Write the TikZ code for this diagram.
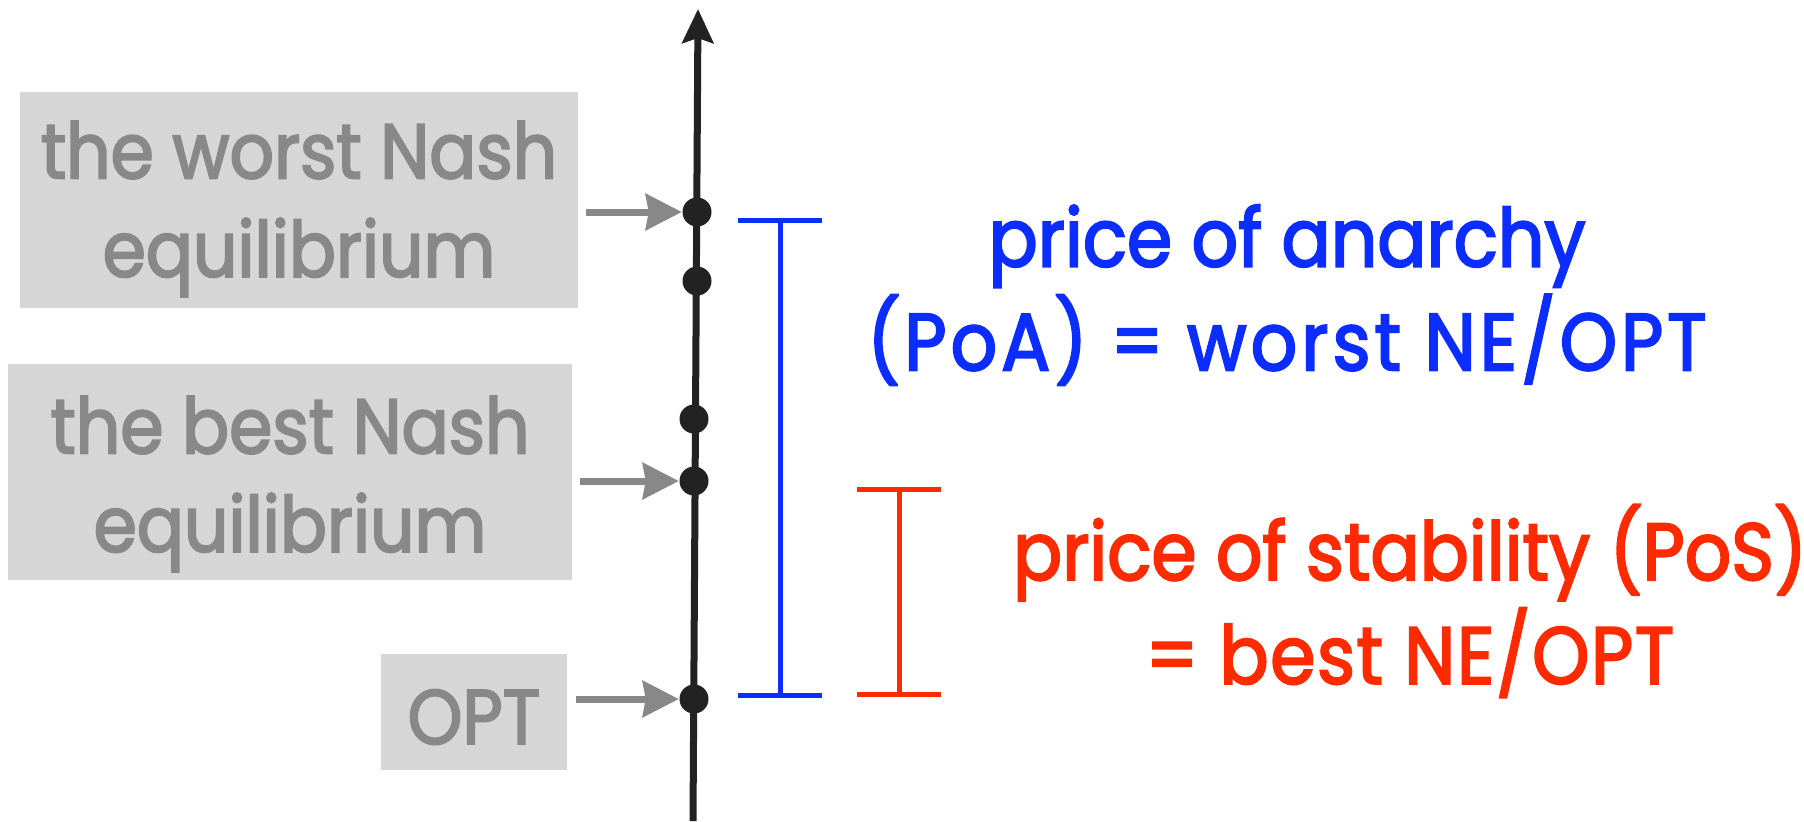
\documentclass[tikz,border=0pt]{standalone}
\usepackage{fontspec}
\setmainfont{Poppins}[FakeStretch=0.9, FakeBold=2.5]
\usetikzlibrary{arrows.meta,positioning}

\definecolor{axiscolor}{RGB}{34,34,34}
\definecolor{boxgray}{RGB}{214,214,214}
\definecolor{labelgray}{RGB}{136,136,136}
\definecolor{poablue}{RGB}{12,45,255}
\definecolor{posred}{RGB}{255,42,0}

\begin{document}
\begin{tikzpicture}[x=0.01cm, y=-0.01cm, >=Stealth]
  \useasboundingbox (0,0) rectangle (1804,821);

  \tikzset{
    eqbox/.style={fill=boxgray, inner sep=0pt},
    eqlabel/.style={text=labelgray, align=center, inner sep=0pt,
                    font=\fontsize{22}{28}\selectfont},
    eqdot/.style={circle, fill=axiscolor, inner sep=0pt, minimum size=0.29cm},
    ptarrow/.style={-{Stealth[length=0.36cm, width=0.36cm, inset=0.03cm]},
                    labelgray, line width=0.07cm, shorten <=0.08cm},
    ratiobar/.style={{Bar[width=0.84cm]}-{Bar[width=0.84cm]}, line width=0.05cm},
    ratiotext/.style={align=center, font=\fontsize{23}{29.5}\selectfont}
  }

  % cost axis
  \coordinate (axbot) at (693, 821);
  \coordinate (axtop) at (698, 9);
  \draw[-{Stealth[length=0.34cm, width=0.31cm, inset=0.05cm]}, axiscolor,
        line width=0.07cm] (axbot) -- (axtop);

  % equilibria and the optimum on the axis
  \node[eqdot] (worstne) at (697, 212) {};
  \node[eqdot] (ne2)     at (697, 281) {};
  \node[eqdot] (ne3)     at (694, 419) {};
  \node[eqdot] (bestne)  at (694, 481) {};
  \node[eqdot] (opt)     at (694, 699) {};

  % gray labels on the left
  \node[eqbox, minimum width=5.57cm, minimum height=2.16cm] (worstbox) at (299, 200) {};
  \node[eqlabel] (worstlabel) at ([yshift=-0.09cm]worstbox) {the worst Nash\\equilibrium};
  \node[eqbox, minimum width=5.63cm, minimum height=2.15cm] (bestbox) at (290, 472) {};
  \node[eqlabel] (bestlabel) at ([yshift=-0.12cm]bestbox) {the best Nash\\equilibrium};
  \node[eqbox, minimum width=1.86cm, minimum height=1.15cm] (optbox) at (474, 712) {};
  \node[eqlabel] (optlabel) at ([yshift=-0.05cm]optbox) {OPT};

  \draw[ptarrow] (worstbox.east |- worstne) -- (worstne);
  \draw[ptarrow] (bestbox.east |- bestne) -- (bestne);
  \draw[ptarrow] (optbox.east |- opt) -- (opt);

  % ratio bars
  \coordinate (poatop) at (780, 218);
  \coordinate (poabot) at (780, 698);
  \draw[ratiobar, poablue] (poatop) -- (poabot);

  \coordinate (postop) at (899, 487);
  \coordinate (posbot) at (899, 697);
  \draw[ratiobar, posred] (postop) -- (posbot);

  % ratio definitions
  \node[ratiotext, text=poablue] (poatext) at (1287, 295)
    {price of anarchy\\{\addfontfeature{LetterSpace=5}(PoA) = worst NE/OPT}};
  \node[ratiotext, text=posred] (postext) at (1410, 601)
    {price of stability (PoS)\\{\addfontfeature{LetterSpace=2}= best NE/OPT}};

\end{tikzpicture}
\end{document}
